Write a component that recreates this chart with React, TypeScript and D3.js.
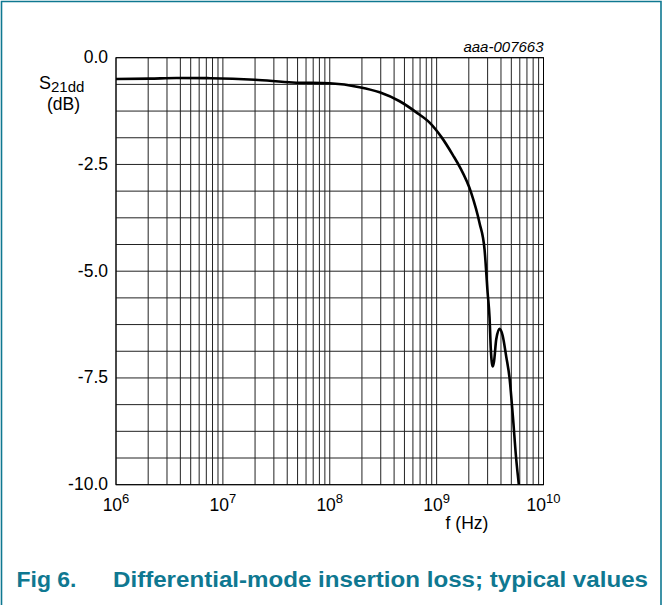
import React from "react";
import * as d3 from "d3";

const freqHz = [1e6, 2.08e6, 3.69e6, 7.57e6, 1.99e7, 4.51e7, 1e8, 1.9e8, 2.93e8, 4.51e8, 6.46e8, 8.6e8, 1.11e9, 1.42e9, 1.64e9, 2.11e9, 2.52e9, 2.81e9, 3.0e9, 3.13e9, 3.21e9, 3.29e9, 3.36e9, 3.45e9, 3.61e9, 3.88e9, 4.14e9, 4.48e9, 4.81e9, 5.17e9, 5.56e9, 5.88e9];
const s21dd = [-0.5, -0.49, -0.475, -0.48, -0.515, -0.58, -0.6, -0.69, -0.81, -1.02, -1.28, -1.52, -1.86, -2.28, -2.55, -3.17, -3.87, -4.5, -5.5, -6.1, -6.8, -7.15, -7.23, -7.1, -6.6, -6.35, -6.5, -7.0, -7.5, -8.4, -9.41, -10];
const yTickValues = [0, -2.5, -5, -7.5, -10];
const yTickLabels = ["0.0", "-2.5", "-5.0", "-7.5", "-10.0"];
const xDecades = [6, 7, 8, 9, 10];

const W = 664, H = 605;
const L = 116, R = 543.5, T = 57.7, B = 484.7;
const TEAL = "#0f7891";
const FONT = "'Liberation Sans', Arial, sans-serif";

export default function App() {
  const x = d3.scaleLog().domain([1e6, 1e10]).range([L, R]);
  const y = d3.scaleLinear().domain([-10, 0]).range([B, T]);

  const vLines: number[] = [];
  for (let d = 6; d < 10; d++) for (let m = 1; m <= 9; m++) vLines.push(m * Math.pow(10, d));
  vLines.push(1e10);
  const hLines = d3.range(0, 17).map((i) => -i * 0.625);

  const pts: [number, number][] = freqHz.map((f, i) => [x(f), y(s21dd[i])]);
  const line = d3.line().curve(d3.curveMonotoneX)(pts) || "";

  return (
    <svg width={W} height={H} style={{ position: "absolute", left: 0, top: 0 }} fontFamily={FONT}>
      <rect x={0} y={0} width={W} height={H} fill="#fff" />
      <path d={`M1.5,${H + 5} V1.5 H661 V${H + 5}`} fill="none" stroke={TEAL} strokeWidth={1.6} />
      {vLines.map((v, i) => (
        <line key={"v" + i} x1={x(v)} x2={x(v)} y1={T} y2={B} stroke="#222" strokeWidth={1} />
      ))}
      {hLines.map((v, i) => (
        <line key={"h" + i} x1={L} x2={R} y1={y(v)} y2={y(v)} stroke="#222" strokeWidth={1} />
      ))}
      <rect x={L} y={T} width={R - L} height={B - T} fill="none" stroke="#000" strokeWidth={1} />
      <path d={line} fill="none" stroke="#000" strokeWidth={2.6} strokeLinejoin="round" />
      {yTickValues.map((v, i) => (
        <text key={"yt" + i} x={108} y={y(v) + 5.5} textAnchor="end" fontSize={17.5} fill="#000">
          {yTickLabels[i]}
        </text>
      ))}
      {xDecades.map((d) => (
        <text key={"xt" + d} x={x(Math.pow(10, d))} y={510.5} textAnchor="middle" fontSize={17.5} fill="#000">
          10<tspan dy={-8} fontSize={13}>{d}</tspan>
        </text>
      ))}
      <text x={467} y={528.5} textAnchor="middle" fontSize={17.5} fill="#000">f (Hz)</text>
      <text x={39} y={88.5} fontSize={18} fill="#000">
        S<tspan dy={3} fontSize={15}>21dd</tspan>
      </text>
      <text x={63.5} y={109.5} textAnchor="middle" fontSize={17.5} fill="#000">(dB)</text>
      <text x={543.5} y={51.5} textAnchor="end" fontSize={15} fontStyle="italic" fill="#000">aaa-007663</text>
      <text x={16.5} y={587} fontSize={22} fontWeight="bold" fill={TEAL} textLength={60} lengthAdjust="spacingAndGlyphs">Fig 6.</text>
      <text x={113} y={587} fontSize={22} fontWeight="bold" fill={TEAL} textLength={535} lengthAdjust="spacingAndGlyphs">Differential-mode insertion loss; typical values</text>
    </svg>
  );
}
